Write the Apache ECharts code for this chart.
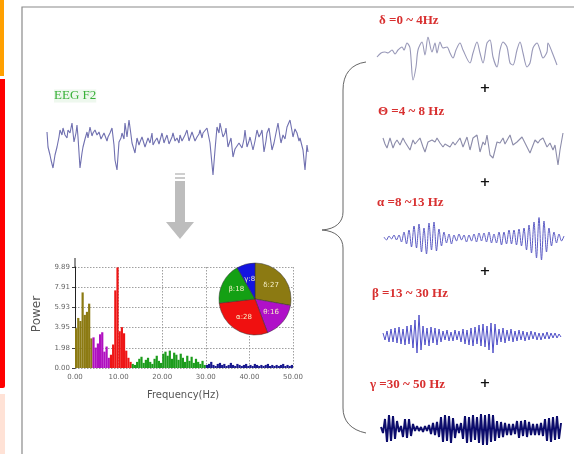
<!DOCTYPE html>
<html>
<head>
<meta charset="utf-8">
<script src="https://cdn.jsdelivr.net/npm/echarts@6/dist/echarts.min.js"></script>
<style>html,body{margin:0;padding:0;background:#fff}#c{width:574px;height:454px}</style>
</head>
<body>
<div id="c"></div>
<script>
// ---- Data ----
// raw EEG F2 trace: [time sample, amplitude]
const eegF2 = [[0,15],[1,0],[3,-8],[4,-13],[6,-21],[8,-8],[10,0],[12,10],[13,17],[15,12],[16,19],[18,12],[20,9],[21,17],[23,14],[25,24],[27,5],[29,14],[30,22],[31,10],[33,-21],[35,-6],[36,0],[38,8],[40,15],[41,9],[43,20],[45,11],[46,14],[48,17],[50,12],[52,15],[54,8],[55,9],[57,14],[58,12],[60,6],[61,10],[63,14],[65,19],[67,2],[68,-13],[70,-23],[72,5],[74,9],[75,14],[77,8],[78,24],[80,10],[82,27],[84,12],[85,4],[88,-6],[90,9],[92,2],[93,5],[95,10],[96,12],[98,0],[100,6],[101,9],[103,4],[105,14],[106,2],[108,6],[110,9],[112,3],[115,14],[117,4],[118,7],[120,12],[122,3],[123,5],[125,10],[126,14],[128,6],[130,9],[132,4],[133,12],[135,6],[136,7],[138,12],[140,17],[142,6],[143,9],[145,15],[146,12],[148,6],[150,10],[152,13],[153,17],[155,9],[156,14],[158,12],[160,19],[163,4],[166,-28],[168,-3],[170,20],[172,14],[173,24],[176,10],[178,14],[179,19],[181,0],[183,6],[184,9],[186,-10],[188,-2],[190,-3],[192,4],[194,2],[195,-1],[197,8],[198,17],[200,0],[202,6],[203,10],[206,-3],[208,6],[210,17],[212,10],[214,14],[215,17],[217,-5],[219,6],[220,14],[222,19],[225,-3],[227,4],[228,9],[231,24],[233,10],[234,4],[236,12],[238,8],[240,20],[243,27],[245,16],[246,10],[248,18],[250,14],[252,6],[253,9],[256,-3],[258,-23],[260,2],[261,-5]];
// delta band trace
const deltaWave = [[0,1],[4,5],[8,6],[11,5],[15,8],[18,4],[21,8],[25,11],[27,8],[30,15],[33,10],[36,-22],[39,-9],[41,8],[45,16],[48,3],[51,21],[55,6],[58,15],[60,5],[63,16],[66,10],[70,11],[73,5],[76,0],[79,8],[83,15],[86,8],[93,-5],[96,5],[100,16],[103,5],[106,-5],[110,15],[113,18],[116,1],[120,-9],[123,8],[126,16],[130,11],[133,-5],[136,-7],[140,8],[143,16],[146,5],[150,-9],[153,-5],[156,10],[160,15],[163,8],[166,0],[170,6],[171,15],[175,6],[180,-7]];
// theta band trace
const thetaWave = [[0,10],[2,4],[4,0],[7,10],[10,0],[12,5],[14,8],[17,3],[20,10],[22,6],[24,5],[27,-2],[30,8],[32,4],[34,5],[37,10],[40,1],[42,-4],[45,6],[47,4],[49,8],[52,6],[54,10],[57,5],[60,1],[62,4],[64,5],[67,1],[70,6],[72,3],[74,5],[77,10],[80,1],[84,11],[87,-2],[90,10],[94,13],[97,-4],[100,6],[102,3],[104,13],[107,-7],[110,-10],[114,6],[117,5],[120,10],[122,4],[124,5],[127,13],[130,3],[134,6],[136,4],[139,11],[144,1],[147,-5],[152,8],[155,5],[157,8],[160,10],[164,1],[167,5],[170,-2],[172,3],[175,-17],[177,-2],[180,15]];
// alpha band trace (uniform samples)
const alphaWave = [1,-2,2,-1,3,-2,3,-4,6,-6,8,-9,12,-10,14,-14,10,-16,15,-12,16,-13,9,-8,6,-5,4,-6,3,-3,4,-2,3,-4,3,-3,4,-4,5,-3,5,-4,6,-5,4,-5,6,-7,6,-6,8,-6,8,-7,9,-8,10,-12,13,-15,16,-20,21,-22,17,-14,10,-8,6,-5,4,-3,2];
// beta band trace (uniform samples)
const betaWave = [3,-4,5,-6,7,-6,8,-7,9,-8,7,-9,10,-8,11,-12,16,-17,21,-14,10,-9,8,-10,9,-7,8,-9,7,-6,5,-4,6,-5,4,-5,6,-4,5,-6,7,-8,6,-9,8,-10,9,-8,11,-10,12,-11,10,-14,13,-17,12,-9,7,-6,8,-7,6,-5,7,-6,5,-5,6,-4,5,-5,4,-4,5,-3,4,-4,3,-4,3,-3,4,-3,3,-2,3,-2,2,-1];
// gamma band trace (uniform samples)
const gammaWave = [2,-4,10,-13,14,-12,13,-10,8,-3,3,-8,10,-9,10,-7,5,-2,3,-2,2,-3,3,-2,4,-5,6,-6,7,-8,12,-13,14,-12,13,-14,11,-9,5,-4,6,-10,13,-14,12,-13,14,-11,12,-14,15,-16,14,-16,15,-13,14,-12,8,-9,7,-8,6,-6,5,-6,5,-5,8,-9,8,-7,9,-8,7,-6,5,-6,5,-6,6,-7,10,-12,11,-13,12,-11,13,-10,6];

// power spectrum, 0.5 Hz bins per band
const deltaPower = [3.9,4.9,4.6,7.4,5.2,5.5,6.3,2.9];
const thetaPower = [3.0,2.0,2.4,3.3,3.5,1.6,2.1,1.0];
const alphaPower = [1.3,2.3,7.6,9.85,3.6,4.0,3.4,1.7,1.0,0.6];
const betaPower = [0.4,0.3,0.6,0.9,1.1,0.5,0.8,1.0,0.6,0.4,0.9,1.2,0.7,0.5,1.4,1.6,1.2,1.7,0.9,1.5,1.3,0.8,1.4,1.0,0.6,1.2,0.7,1.1,0.5,0.9,0.6,0.4,0.7,0.3];
const gammaPower = [0.3,0.4,0.6,0.3,0.2,0.4,0.5,0.3,0.4,0.2,0.3,0.5,0.3,0.2,0.4,0.3,0.2,0.3,0.4,0.2,0.3,0.2,0.4,0.3,0.2,0.3,0.2,0.3,0.4,0.2,0.3,0.2,0.3,0.2,0.3,0.4,0.2,0.3,0.2,0.3];
const bandStarts = [0,4,8,13,30];
const yTickLabels = ['0.00','1.98','3.95','5.93','7.91','9.89'];

// pie
const pieNames = ['δ','θ','α','β','γ'];
const pieValues = [27,16,28,18,8];

// band labels
const bandLabels = ['δ =0 ~ 4Hz','Θ =4 ~ 8 Hz','α =8 ~13 Hz','β =13 ~ 30 Hz','γ =30 ~ 50 Hz'];

// ---- styles ----
const barColors = ['#8c7a12','#b010c0','#ee1515','#1c9c1c','#18188e'];
const pieColors = ['#8c7a12','#b010c8','#f01010','#14a014','#1414e0'];

const specData = [];
[deltaPower,thetaPower,alphaPower,betaPower,gammaPower].forEach((arr,b)=>{
  arr.forEach((p,i)=>{
    specData.push({value:[bandStarts[b]+0.25+i*0.5,p], itemStyle:{color:barColors[b]}});
  });
});
const uni = (arr, step) => arr.map((v,i)=>[i*step, v]);

function wx(gi,max){return {type:'value',gridIndex:gi,min:0,max:max,show:false};}
function wy(gi,min,max){return {type:'value',gridIndex:gi,min:min,max:max,show:false};}
const braceStyle = {stroke:'#666',lineWidth:1,fill:null};
const redLabel = 'bold 13px "Liberation Serif"';

const option = {
  animation:false,
  backgroundColor:'#ffffff',
  grid:[
    {left:47, top:119, width:261, height:56},   // 0 EEG
    {left:75, top:267, width:218, height:101},  // 1 spectrum
    {left:377, top:37, width:180, height:45},   // 2 delta
    {left:383, top:133, width:180, height:34},  // 3 theta
    {left:384, top:218, width:180, height:44},  // 4 alpha
    {left:383, top:315, width:178, height:42},  // 5 beta
    {left:381, top:413, width:180, height:32}   // 6 gamma
  ],
  xAxis:[
    wx(0,261),
    {type:'value',gridIndex:1,min:0,max:50,interval:10,
     axisLine:{show:false},axisTick:{show:false},
     axisLabel:{fontSize:7,color:'#666',margin:6,fontFamily:'DejaVu Sans',formatter:v=>v.toFixed(2)},
     splitLine:{show:true,lineStyle:{type:[1.5,1.5],color:'#888',width:0.8}}},
    wx(2,180), wx(3,180), wx(4,180), wx(5,178), wx(6,180)
  ],
  yAxis:[
    wy(0,-28,28),
    {type:'value',gridIndex:1,min:0,max:9.89,interval:1.978,
     axisLine:{show:true,lineStyle:{color:'#222',width:1}},
     axisTick:{show:true,length:3,lineStyle:{color:'#444'}},
     axisLabel:{fontSize:7,color:'#666',margin:5,fontFamily:'DejaVu Sans',
       formatter:v=>{const i=Math.round(v/1.978);return Math.abs(v-i*1.978)<0.02?(yTickLabels[i]||''):'';}},
     splitLine:{show:true,lineStyle:{type:[1.5,1.5],color:'#888',width:0.8}}},
    wy(2,-24,21), wy(3,-19,15), wy(4,-24,20), wy(5,-21,21), wy(6,-16,16)
  ],
  series:[
    {type:'line',xAxisIndex:0,yAxisIndex:0,data:eegF2,showSymbol:false,
     lineStyle:{color:'#7070b0',width:1.1}},
    {type:'bar',xAxisIndex:1,yAxisIndex:1,data:specData,barWidth:2.2},
    {type:'line',xAxisIndex:2,yAxisIndex:2,data:deltaWave,showSymbol:false,smooth:0.3,
     lineStyle:{color:'#9898b8',width:1.1}},
    {type:'line',xAxisIndex:3,yAxisIndex:3,data:thetaWave,showSymbol:false,
     lineStyle:{color:'#8c8caa',width:1.1}},
    {type:'line',xAxisIndex:4,yAxisIndex:4,data:uni(alphaWave,2.5),showSymbol:false,smooth:0.3,
     lineStyle:{color:'#5c5cc4',width:1}},
    {type:'line',xAxisIndex:5,yAxisIndex:5,data:uni(betaWave,2),showSymbol:false,
     lineStyle:{color:'#5050c8',width:1}},
    {type:'line',xAxisIndex:6,yAxisIndex:6,data:uni(gammaWave,2),showSymbol:false,
     lineStyle:{color:'#0c0c6c',width:2}},
    {type:'pie',center:[255,299],radius:36,startAngle:90,clockwise:true,
     data:pieNames.map((n,i)=>({name:n,value:pieValues[i],itemStyle:{color:pieColors[i]}})),
     itemStyle:{borderColor:'#333',borderWidth:0.5},
     label:{show:true,position:'inside',fontSize:7,color:'#f6f0c8',fontFamily:'DejaVu Sans',
       formatter:p=>p.name+':'+p.value},
     labelLine:{show:false}, emphasis:{disabled:true}}
  ],
  graphic:[
    {type:'rect',shape:{x:0,y:0,width:4,height:76},style:{fill:'#ffa000'}},
    {type:'rect',shape:{x:0,y:79,width:5,height:309,r:[0,0,2,0]},style:{fill:'#ff0000'}},
    {type:'rect',shape:{x:0,y:394,width:5,height:60},style:{fill:'#ffe2d6'}},
    {type:'polyline',shape:{points:[[22,454],[22,7],[574,7]]},style:{stroke:'#8a8a8a',lineWidth:1.2,fill:null}},
    // y-axis extension above the top tick
    {type:'line',shape:{x1:75,y1:258,x2:75,y2:267},style:{stroke:'#222',lineWidth:1}},
    // arrow
    {type:'rect',shape:{x:175,y:173,width:10,height:2},style:{fill:'#cfcfcf'}},
    {type:'rect',shape:{x:175,y:177,width:10,height:2},style:{fill:'#cacaca'}},
    {type:'rect',shape:{x:175,y:181,width:10,height:42},style:{fill:'#bdbdbd'}},
    {type:'polygon',shape:{points:[[166,222],[194,222],[180,239]]},style:{fill:'#bdbdbd'}},
    // brace
    {type:'bezierCurve',shape:{x1:366,y1:62,cpx1:351,cpy1:64,cpx2:343,cpy2:74,x2:343,y2:90},style:braceStyle},
    {type:'line',shape:{x1:343,y1:90,x2:343,y2:212},style:braceStyle},
    {type:'bezierCurve',shape:{x1:343,y1:212,cpx1:343,cpy1:222,cpx2:336,cpy2:229,x2:322,y2:230},style:braceStyle},
    {type:'bezierCurve',shape:{x1:322,y1:230,cpx1:336,cpy1:231,cpx2:343,cpy2:238,x2:343,y2:248},style:braceStyle},
    {type:'line',shape:{x1:343,y1:248,x2:343,y2:408},style:braceStyle},
    {type:'bezierCurve',shape:{x1:343,y1:408,cpx1:343,cpy1:421,cpx2:351,cpy2:430,x2:366,y2:433},style:braceStyle},
    {type:'text',x:54,y:96,style:{text:'EEG F2',fill:'#38b038',font:'13px "Liberation Serif"',verticalAlign:'middle',backgroundColor:'#eef8ee'}},
    {type:'text',x:37,y:314,rotation:Math.PI/2,style:{text:'Power',fill:'#555',font:'12px "DejaVu Sans"',align:'center',verticalAlign:'middle'}},
    {type:'text',x:183,y:395,style:{text:'Frequency(Hz)',fill:'#555',font:'10px "DejaVu Sans"',align:'center',verticalAlign:'middle'}},
    {type:'text',x:379,y:21,style:{text:bandLabels[0],fill:'#d83030',font:redLabel,verticalAlign:'middle'}},
    {type:'text',x:378,y:112,style:{text:bandLabels[1],fill:'#d83030',font:redLabel,verticalAlign:'middle'}},
    {type:'text',x:377,y:203,style:{text:bandLabels[2],fill:'#d83030',font:redLabel,verticalAlign:'middle'}},
    {type:'text',x:372,y:294,style:{text:bandLabels[3],fill:'#d83030',font:redLabel,verticalAlign:'middle'}},
    {type:'text',x:370,y:385,style:{text:bandLabels[4],fill:'#d83030',font:redLabel,verticalAlign:'middle'}},
    {type:'text',x:485,y:89,style:{text:'+',fill:'#111',font:'bold 13px "DejaVu Sans"',align:'center',verticalAlign:'middle'}},
    {type:'text',x:485,y:183,style:{text:'+',fill:'#111',font:'bold 13px "DejaVu Sans"',align:'center',verticalAlign:'middle'}},
    {type:'text',x:485,y:272,style:{text:'+',fill:'#111',font:'bold 13px "DejaVu Sans"',align:'center',verticalAlign:'middle'}},
    {type:'text',x:485,y:384,style:{text:'+',fill:'#111',font:'bold 13px "DejaVu Sans"',align:'center',verticalAlign:'middle'}}
  ]
};
const chart = echarts.init(document.getElementById('c'), null, {renderer:'canvas'});
chart.setOption(option);
</script>
</body>
</html>
